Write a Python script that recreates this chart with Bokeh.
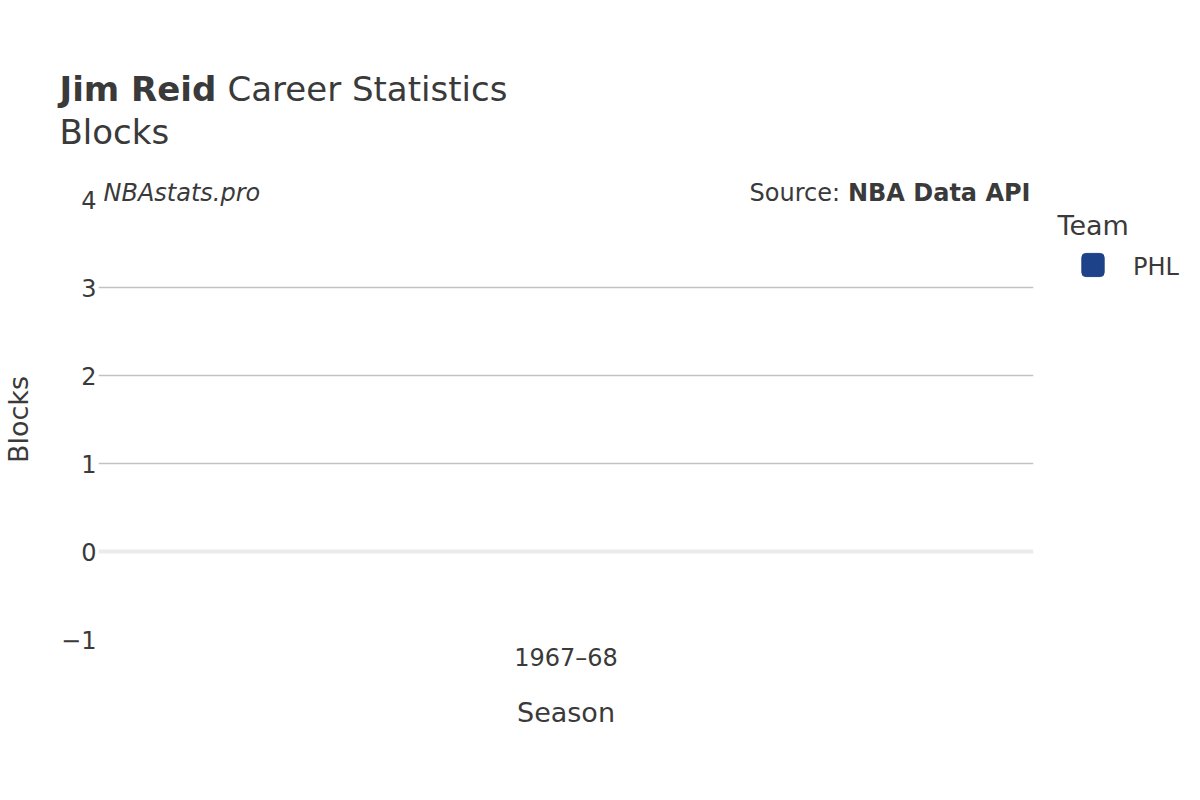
from bokeh.plotting import figure
from bokeh.models import ColumnDataSource, Range1d, FixedTicker, Label, Span
from bokeh.embed import file_html
from bokeh.resources import INLINE

# ---- data ----
seasons = ["1967–68"]
teams = ["PHL"]
blocks = [0]
team_colors = ["#1d428a"]
y_ticks = [-1, 0, 1, 2, 3, 4]

player = "Jim Reid"
stat = "Blocks"

TXT = "#3a3a3a"
FONT = "DejaVu Sans"
SMALL = "24px"

W, H = 1184, 784
FL, FR, FT, FB = 98, 1033, 199, 639   # plot frame in page pixels

pos = list(range(len(seasons)))
p = figure(width=W, height=H, x_range=Range1d(-0.5, len(seasons) - 0.5), y_range=Range1d(-1, 4),
           output_backend="svg", toolbar_location=None,
           min_border_left=FL, min_border_right=W - FR,
           min_border_top=FT, min_border_bottom=H - FB)
p.outline_line_color = None
p.background_fill_color = "white"
p.border_fill_color = "white"
# pixel ranges used only to place the text notes
p.extra_x_ranges = {"px": Range1d(FL, FR)}
p.extra_y_ranges = {"py": Range1d(FB, FT)}

src = ColumnDataSource(dict(x=pos, season=seasons, team=teams, blocks=blocks, color=team_colors))
bars = p.vbar(x="x", top="blocks", bottom=0, width=0.8, source=src,
              fill_color="color", line_alpha=0)

# grid
p.xgrid.grid_line_color = None
p.ygrid.ticker = FixedTicker(ticks=[1, 2, 3])
p.ygrid.grid_line_color = "#c3c3c3"
p.ygrid.grid_line_width = 1.6
p.add_layout(Span(location=0, dimension="width", line_color="#ebebeb", line_width=4))

# axes
for ax in (p.xaxis[0], p.yaxis[0]):
    ax.axis_line_color = None
    ax.major_tick_line_color = None
    ax.minor_tick_line_color = None
    ax.major_tick_out = 0
    ax.major_tick_in = 0
    ax.minor_tick_out = 0
    ax.major_label_text_font = FONT
    ax.major_label_text_font_size = SMALL
    ax.major_label_text_color = TXT
    ax.axis_label_text_font = FONT
    ax.axis_label_text_font_size = "27px"
    ax.axis_label_text_color = TXT
    ax.axis_label_text_font_style = "normal"

p.xaxis.ticker = FixedTicker(ticks=pos)
p.xaxis.major_label_overrides = {i: s for i, s in zip(pos, seasons)}
p.yaxis.ticker = FixedTicker(ticks=y_ticks)
p.yaxis.major_label_overrides = {-1: "−1"}
p.yaxis.major_label_standoff = 2
p.yaxis.axis_label = stat
p.yaxis.axis_label_standoff = 24

p.xaxis.major_label_standoff = 4
p.xaxis.axis_label = "Season"
p.xaxis.axis_label_standoff = 22

def lab(text, x, y, size, style="normal", align="left", side="above", **kw):
    opts = dict(x=x, y=y, x_range_name="px", y_range_name="py",
                text=text, text_font=FONT, text_font_size=size,
                text_font_style=style, text_color=TXT, text_align=align,
                text_baseline="alphabetic")
    opts.update(kw)
    try:
        lbl = Label(**opts)
    except AttributeError:
        opts.pop("border_radius", None)
        lbl = Label(**opts)
    p.add_layout(lbl, side)

lab(player, 59, 88, "34px", "bold")
lab("Career Statistics", 227, 88, "34px")
lab(stat, 59, 131, "34px")
lab("NBAstats.pro", 103, 192, SMALL, "italic")
lab("NBA Data API", 1030, 192, SMALL, "bold", "right")
lab("Source: ", 749, 192, SMALL, "normal", "left", "below")

# legend: title, swatch and team name
lab("Team", 1057, 225, "27px", side="right")
for t, c in zip(teams, team_colors):
    lab("\u00a0", 1092.5, 264.5, "1px", align="center", side="right",
        text_baseline="middle", text_color=c, padding=11,
        background_fill_color=c, border_line_color=c, border_line_width=1,
        border_radius=4)
    lab(t, 1132.5, 266, SMALL, side="right")

open("out.html", "w").write(file_html(p, INLINE))
